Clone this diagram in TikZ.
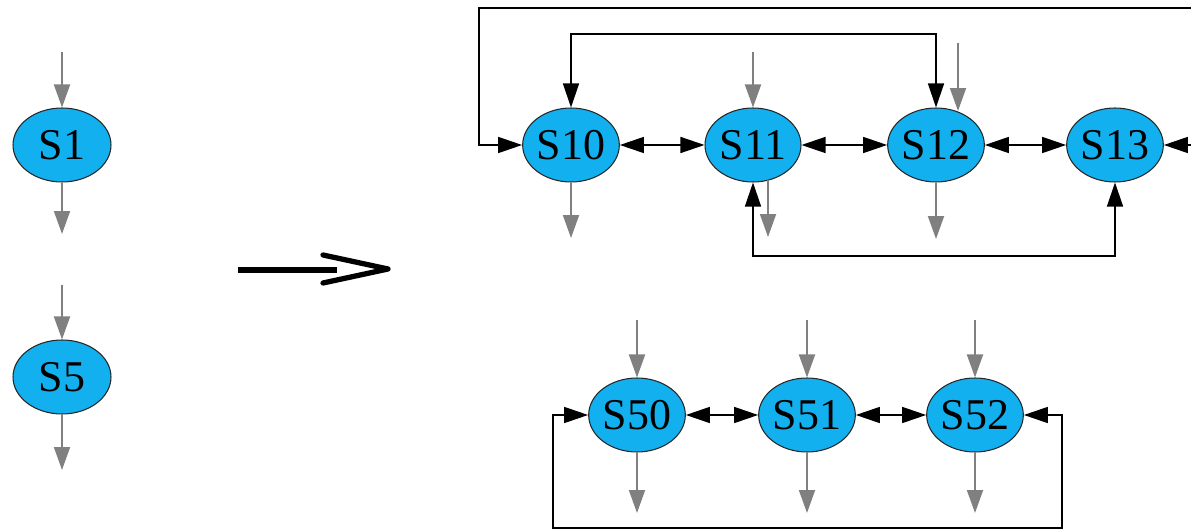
\documentclass[tikz,border=0pt]{standalone}
\usepackage{fontspec}
\setmainfont{Liberation Serif}
\usetikzlibrary{shapes.geometric,arrows.meta}
\definecolor{stfill}{RGB}{18,176,238}
\definecolor{stub}{RGB}{128,128,128}
\tikzset{
  st/.style={ellipse,draw=black!85,line width=0.6pt,fill=stfill,inner sep=0pt,
    minimum width=1.92cm,minimum height=1.48cm,font=\fontsize{25}{25}\selectfont},
  stA/.style={st,minimum width=1.96cm,minimum height=1.48cm},
  stB/.style={st,minimum width=1.80cm,minimum height=1.48cm},
  gr/.style={draw=stub,line width=1.1pt,-{Triangle[length=0.46cm,width=0.32cm,fill=stub]},stub},
  bk/.style={draw=black,line width=0.8pt,{Triangle[length=0.48cm,width=0.32cm]}-{Triangle[length=0.48cm,width=0.32cm]}},
}
\begin{document}
\begin{tikzpicture}[x=0.02cm,y=-0.02cm]
\useasboundingbox (0,0) rectangle (1191,530);
\clip (0,0) rectangle (1191,530);
% left states
\node[stA] (S1) at (62,145) {S1};
\node[stA] (S5) at (62,377) {S5};
\coordinate (s1i) at (62,52);  \coordinate (s1o) at (62,234);
\coordinate (s5i) at (62,285); \coordinate (s5o) at (62,470);
\draw[gr] (s1i) -- (S1);
\draw[gr] (S1) -- (s1o);
\draw[gr] (s5i) -- (S5);
\draw[gr] (S5) -- (s5o);
% big arrow
\coordinate (ba) at (238,270); \coordinate (bb) at (337,270);
\coordinate (bt) at (388,269); \coordinate (bu) at (323,255); \coordinate (bl) at (323,283);
\draw[line width=3pt] (ba) -- (bb);
\draw[line width=3pt,line cap=round,line join=round] (bu) -- (bt) -- (bl);
% top row
\node[st] (S10) at (571,145) {S10};
\node[st] (S11) at (753,145) {S11};
\node[st] (S12) at (936,145) {S12};
\node[st] (S13) at (1115,145) {S13};
\draw[bk] (S10) -- (S11);
\draw[bk] (S11) -- (S12);
\draw[bk] (S12) -- (S13);
\coordinate (c1) at (479,8); \coordinate (c2) at (1210,8);
\draw[bk] (S10.west) -| (c1) -- (c2) |- (S13.east);
\coordinate (c3) at (700,34);
\draw[bk] (S10.north) |- (c3) -| (S12.north);
\coordinate (c4) at (900,256);
\draw[bk] (S11.south) |- (c4) -| (S13.south);
\coordinate (t11i) at (753,52);
\coordinate (t12i) at (958,43);
\coordinate (t12e) at (958,111);
\coordinate (t11s) at (768,180);
\coordinate (t10o) at (571,238);
\coordinate (t11o) at (768,237);
\coordinate (t12o) at (936,239);
\draw[gr] (t11i) -- (S11);
\draw[gr] (t12i) -- (t12e);
\draw[gr] (S10) -- (t10o);
\draw[gr] (t11s) -- (t11o);
\draw[gr] (S12) -- (t12o);
% bottom row
\node[stB] (S50) at (637,415) {S50};
\node[stB] (S51) at (807,415) {S51};
\node[stB] (S52) at (975,415) {S52};
\draw[bk] (S50) -- (S51);
\draw[bk] (S51) -- (S52);
\coordinate (c5) at (553,528); \coordinate (c6) at (1062,528);
\draw[bk] (S50.west) -| (c5) -- (c6) |- (S52.east);
\foreach \n/\x in {S50/637,S51/807,S52/975}{
  \coordinate (\n i) at (\x,320);
  \coordinate (\n o) at (\x,513);
  \draw[gr] (\n i) -- (\n);
  \draw[gr] (\n) -- (\n o);
}
\end{tikzpicture}
\end{document}
